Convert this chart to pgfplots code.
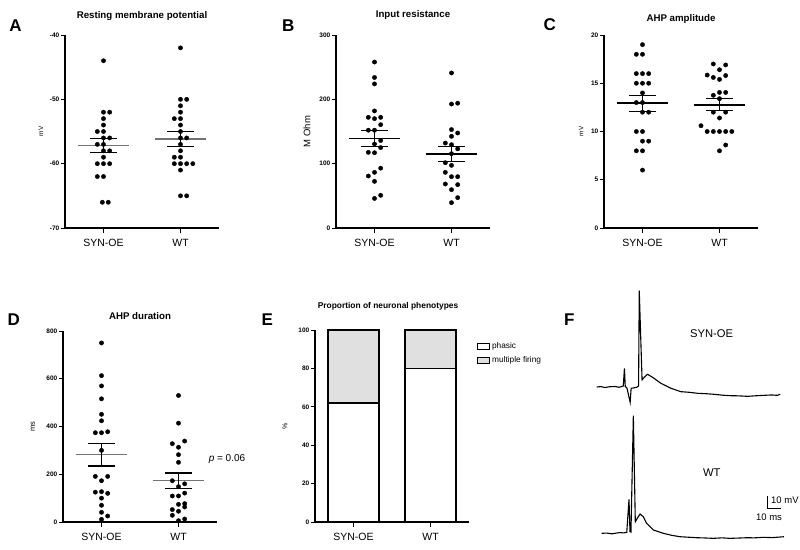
\documentclass[border=0pt]{standalone}
\usepackage{fontspec}
\setmainfont{Liberation Sans}
\usepackage{pgfplots}
\pgfplotsset{compat=1.18}
\pgfplotsset{
 every axis title shift=0pt,
 gp/.style={
  scale only axis, width=154pt, height=193pt,
  xmin=-0.5, xmax=1.5,
  axis x line*=bottom, axis y line*=left,
  axis line style={line width=1.2pt, black},
  tick align=outside,
  major tick length=4.5pt,
  tick style={black, line width=1pt},
  xtick={0,1}, xticklabels={SYN-OE,WT},
  xticklabel style={font=\fontsize{10.5}{12}\selectfont, yshift=-3pt},
  yticklabel style={font=\fontsize{6.5}{7}\selectfont\bfseries, inner xsep=1pt},
  title style={font=\fontsize{9.7}{11}\selectfont\bfseries, anchor=center, yshift=0pt},
  clip=false,
 },
 dots/.style={only marks, mark=*, mark size=2.15pt, black, mark options={draw=black, fill=black}},
 mline/.style={black, line width=1.3pt},
}
\newcommand{\plab}[3]{\node[font=\fontsize{17}{17}\selectfont\bfseries] at (#1pt,-#2pt) {#3};}
\begin{document}
\begin{tikzpicture}
\path[use as bounding box] (0,0) rectangle (800pt,-549pt);

% ---------------- A
\begin{axis}[gp, anchor=south west, at={(65pt,-228pt)},
  ymin=-70, ymax=-40, ytick={-70,-60,-50,-40}, yticklabels={-70,-60,-50,-40},
  title={Resting membrane potential}, title style={at={(axis description cs:0.5,1.099)}, anchor=center, yshift=0pt},
  ylabel={mV}, ylabel style={at={(axis description cs:-0.156,0.5)}, anchor=center, font=\fontsize{6.5}{7}\selectfont}]
\addplot[dots] coordinates {(0,-44) (0,-52) (0.08,-52) (0,-53) (0,-54) (-0.08,-55) (0,-55) (0,-56) (0.08,-56) (-0.08,-57) (0,-57) (0,-58) (0.08,-58) (0,-59) (-0.08,-60) (0,-60) (0.08,-60) (-0.08,-62) (0,-62) (-0.015,-66) (0.062,-66)};
\addplot[dots] coordinates {(1,-42) (1,-50) (1.08,-50) (1,-51) (1,-52) (0.92,-53) (1,-53) (1,-54) (1,-55) (1,-56) (1.08,-56) (1,-57) (1,-58) (0.92,-59) (1,-59) (0.92,-60) (1,-60) (1.08,-60) (1.16,-60) (1,-61) (1,-65) (1.08,-65)};
\addplot[mline, black!55] coordinates {(-0.335,-57.2) (0.335,-57.2)};
\addplot[mline] coordinates {(-0.17,-56.1) (0.17,-56.1)};
\addplot[mline] coordinates {(-0.17,-58.3) (0.17,-58.3)};
\addplot[mline] coordinates {(0,-56.1) (0,-58.3)};
\addplot[mline, black!55] coordinates {(0.665,-56.15) (1.335,-56.15)};
\addplot[mline] coordinates {(0.83,-55.0) (1.17,-55.0)};
\addplot[mline] coordinates {(0.83,-57.3) (1.17,-57.3)};
\addplot[mline] coordinates {(1,-55.0) (1,-57.3)};
\end{axis}

% ---------------- B
\begin{axis}[gp, anchor=south west, at={(336pt,-228pt)},
  ymin=0, ymax=300, ytick={0,100,200,300}, yticklabels={0,100,200,300},
  title={Input resistance}, title style={at={(axis description cs:0.5,1.105)}, anchor=center, yshift=0pt},
  ylabel={M Ohm}, ylabel style={at={(axis description cs:-0.188,0.5)}, anchor=center, font=\fontsize{9.5}{10}\selectfont}]
\addplot[dots] coordinates {(0,258) (0,234) (0,224) (0,182) (-0.08,172) (0,170) (0.08,172) (0.08,160.6) (-0.08,152) (0,152) (0.08,136) (0,130.6) (0.08,125) (-0.08,117.6) (0,117) (0.08,93) (0,86.5) (-0.08,80.8) (0,72.5) (0.08,50.8) (0,46)};
\addplot[dots] coordinates {(1,241) (1.08,194) (1,192.7) (1,153) (1.08,147.7) (1,142.5) (0.92,132) (1,129.5) (1.08,123) (1,115.5) (0.92,101.5) (1,97.4) (0.92,86.5) (1,79.8) (1.08,79.8) (1.08,67.4) (0.92,68.4) (1,59.6) (1.08,47.2) (1,39.4)};
\addplot[mline] coordinates {(-0.335,139.4) (0.335,139.4)};
\addplot[mline] coordinates {(-0.17,152) (0.17,152)};
\addplot[mline] coordinates {(-0.17,127) (0.17,127)};
\addplot[mline] coordinates {(0,152) (0,127)};
\addplot[mline] coordinates {(0.665,115) (1.335,115)};
\addplot[mline] coordinates {(0.83,127) (1.17,127)};
\addplot[mline] coordinates {(0.83,103) (1.17,103)};
\addplot[mline] coordinates {(1,127) (1,103)};
\end{axis}

% ---------------- C
\begin{axis}[gp, anchor=south west, at={(604pt,-228pt)},
  ymin=0, ymax=20, ytick={0,5,10,15,20}, yticklabels={0,5,10,15,20},
  title={AHP amplitude}, title style={at={(axis description cs:0.5,1.085)}, anchor=center, yshift=0pt},
  ylabel={mV}, ylabel style={at={(axis description cs:-0.149,0.5)}, anchor=center, font=\fontsize{6.5}{7}\selectfont}]
\addplot[dots] coordinates {(0,19) (-0.08,18) (0,18) (-0.08,16) (0,16) (0.08,16) (-0.08,15) (0,15) (0.08,15) (0,14) (-0.08,13) (0,13) (0,12) (0.08,12) (-0.08,10) (0,10) (0,9) (0.08,9) (-0.08,8) (0,8) (0,6)};
\addplot[dots] coordinates {(0.92,17.0) (1.08,16.9) (1,16.4) (0.84,15.85) (0.92,15.6) (1,15.4) (1.08,15.8) (1,14.05) (1.08,14.05) (0.92,13.75) (1,13.4) (0.92,12) (1.08,12) (1,11.4) (0.76,10.6) (0.84,10) (0.92,10) (1,10) (1.08,10) (1.16,10) (1.08,8.6) (1,8)};
\addplot[mline] coordinates {(-0.335,12.95) (0.335,12.95)};
\addplot[mline] coordinates {(-0.17,13.75) (0.17,13.75)};
\addplot[mline] coordinates {(-0.17,12.1) (0.17,12.1)};
\addplot[mline] coordinates {(0,13.75) (0,12.1)};
\addplot[mline] coordinates {(0.665,12.75) (1.335,12.75)};
\addplot[mline] coordinates {(0.83,13.4) (1.17,13.4)};
\addplot[mline] coordinates {(0.83,12.2) (1.17,12.2)};
\addplot[mline] coordinates {(1,13.4) (1,12.2)};
\end{axis}

% ---------------- D
\begin{axis}[gp, height=191pt, anchor=south west, at={(63pt,-522pt)},
  ymin=0, ymax=800, ytick={0,200,400,600,800}, yticklabels={0,200,400,600,800},
  title={AHP duration}, title style={at={(axis description cs:0.5,1.078)}, anchor=center, yshift=0pt},
  ylabel={ms}, ylabel style={at={(axis description cs:-0.195,0.5)}, anchor=center, font=\fontsize{7.5}{8}\selectfont}]
\addplot[dots] coordinates {(0,750) (0,613) (0,570) (0,516) (0,451) (0,424) (-0.08,374) (0,374) (0.08,378) (0,300) (-0.08,191) (0.08,191) (0,173) (-0.08,125) (0,127) (0.08,120) (0,100) (0,70) (0,40.5) (0.08,25) (0,11)};
\addplot[dots] coordinates {(1,530) (1,414) (0.92,328) (1,313) (1.08,339) (1,282) (1,250) (0.92,173) (1,148) (1.08,160) (0.92,109) (1,109) (1.08,121) (1,74) (1.08,77) (1.08,63) (0.92,52) (1,45) (0.92,28) (1.08,12.6) (1,5.6)};
\addplot[mline, black!55] coordinates {(-0.335,282) (0.335,282)};
\addplot[mline] coordinates {(-0.17,328) (0.17,328)};
\addplot[mline] coordinates {(-0.17,234) (0.17,234)};
\addplot[mline] coordinates {(0,328) (0,234)};
\addplot[mline, black!55] coordinates {(0.665,173) (1.335,173)};
\addplot[mline] coordinates {(0.83,205) (1.17,205)};
\addplot[mline] coordinates {(0.83,141) (1.17,141)};
\addplot[mline] coordinates {(1,205) (1,141)};
\node[font=\fontsize{10}{11}\selectfont] at (axis cs:1.63,263) {\textit{p} = 0.06};
\end{axis}

% ---------------- E
\begin{axis}[gp, height=192pt, anchor=south west, at={(315pt,-522pt)},
  ybar stacked, bar width=51pt,
  ymin=0, ymax=100, ytick={0,20,40,60,80,100}, yticklabels={0,20,40,60,80,100},
  title={Proportion of neuronal phenotypes},
  title style={at={(axis description cs:0.474,1.125)}, anchor=center, yshift=0pt, font=\fontsize{8.4}{10}\selectfont\bfseries},
  ylabel={\%}, ylabel style={at={(axis description cs:-0.195,0.5)}, anchor=center, font=\fontsize{7}{8}\selectfont},
  legend style={at={(axis description cs:1.045,0.95)}, anchor=north west, draw=none, fill=none,
    font=\fontsize{8.3}{9.5}\selectfont, inner sep=1pt, row sep=2.5pt},
  legend cell align=left]
\addplot[fill=white, draw=black, line width=1.2pt,
  legend image code/.code={\draw[fill=white, draw=black, line width=1pt] (0pt,-2.8pt) rectangle (12pt,2.8pt);}]
  coordinates {(0,62) (1,80)};
\addlegendentry{phasic}
\addplot[fill=black!12, draw=black, line width=1.2pt,
  legend image code/.code={\draw[fill=black!12, draw=black, line width=1pt] (0pt,-2.8pt) rectangle (12pt,2.8pt);}]
  coordinates {(0,38) (1,20)};
\addlegendentry{multiple firing}
\end{axis}

% ---------------- F (traces, time in ms, voltage in mV relative to rest)
\begin{axis}[hide axis, scale only axis, width=196pt, height=119.7pt,
  xmin=-5, xmax=135, ymin=-15, ymax=80, anchor=south west, at={(589.7pt,-405.9pt)}, clip=false]
\addplot[black, line width=1.1pt] coordinates {
(0,0) (3,0.3) (5.9,-0.4) (9,0.2) (13.1,0.4) (16,-0.2) (19,0.8) (19.8,14.8) (20.4,0.4) (21.6,-0.8) (23.9,-12.1) (24.6,-1.0) (27,-0.6) (28.6,-0.2) (29.9,0.8) (30.4,76.4) (32.4,5.6) (33.9,7.7) (36.3,10.1) (39.9,7.7) (45.9,2.9) (53.0,-1.0) (60.1,-3.7) (66,-4.2) (72,-5.0) (78,-5.3) (83.9,-5.8) (90,-6.5) (95.9,-6.9) (101,-7.0) (107.8,-7.4) (113,-7.0) (119.6,-6.6) (125,-6.3) (129,-6.6) (131.1,-5.8)};
\node[font=\fontsize{11.2}{12}\selectfont] at (axis cs:82.1,42.6) {SYN-OE};
\end{axis}

\begin{axis}[hide axis, scale only axis, width=196pt, height=138.6pt,
  xmin=-5, xmax=135, ymin=-10, ymax=100, anchor=south west, at={(594.7pt,-545.9pt)}, clip=false]
\addplot[black, line width=1.1pt] coordinates {
(0,0) (3.5,0.2) (7.4,-0.4) (10,0.1) (13.1,0.6) (15.5,0.3) (17.9,0.8) (19.5,27.0) (20.2,1.3) (20.9,1.0) (22.6,93.3) (24,9.2) (25.4,11.9) (27.4,15.3) (29.7,13.2) (32.1,7.9) (36.9,2.6) (44,0) (50,-1.6) (55.9,-2.7) (62,-3.1) (67.9,-3.5) (74,-3.7) (79.7,-4.0) (86,-3.6) (91.6,-4.0) (97,-3.8) (103.6,-3.5) (109,-3.6) (115.4,-3.2) (122,-3.4) (130.2,-2.7)};
\addplot[black, line width=0.9pt] coordinates {(118.1,29.8) (118.1,19.8) (128.1,19.8)};
\node[font=\fontsize{11.2}{12}\selectfont] at (axis cs:78.6,48.1) {WT};
\node[font=\fontsize{9.5}{10}\selectfont, anchor=west, inner sep=0pt] at (axis cs:120.9,26) {10 mV};
\node[font=\fontsize{9.5}{10}\selectfont, inner sep=0pt] at (axis cs:119.5,12.5) {10 ms};
\end{axis}

\plab{15.5}{25.8}{A}
\plab{288.3}{25.8}{B}
\plab{549.8}{24.5}{C}
\plab{13.7}{320}{D}
\plab{267.2}{320}{E}
\plab{569.3}{320}{F}
\end{tikzpicture}
\end{document}
